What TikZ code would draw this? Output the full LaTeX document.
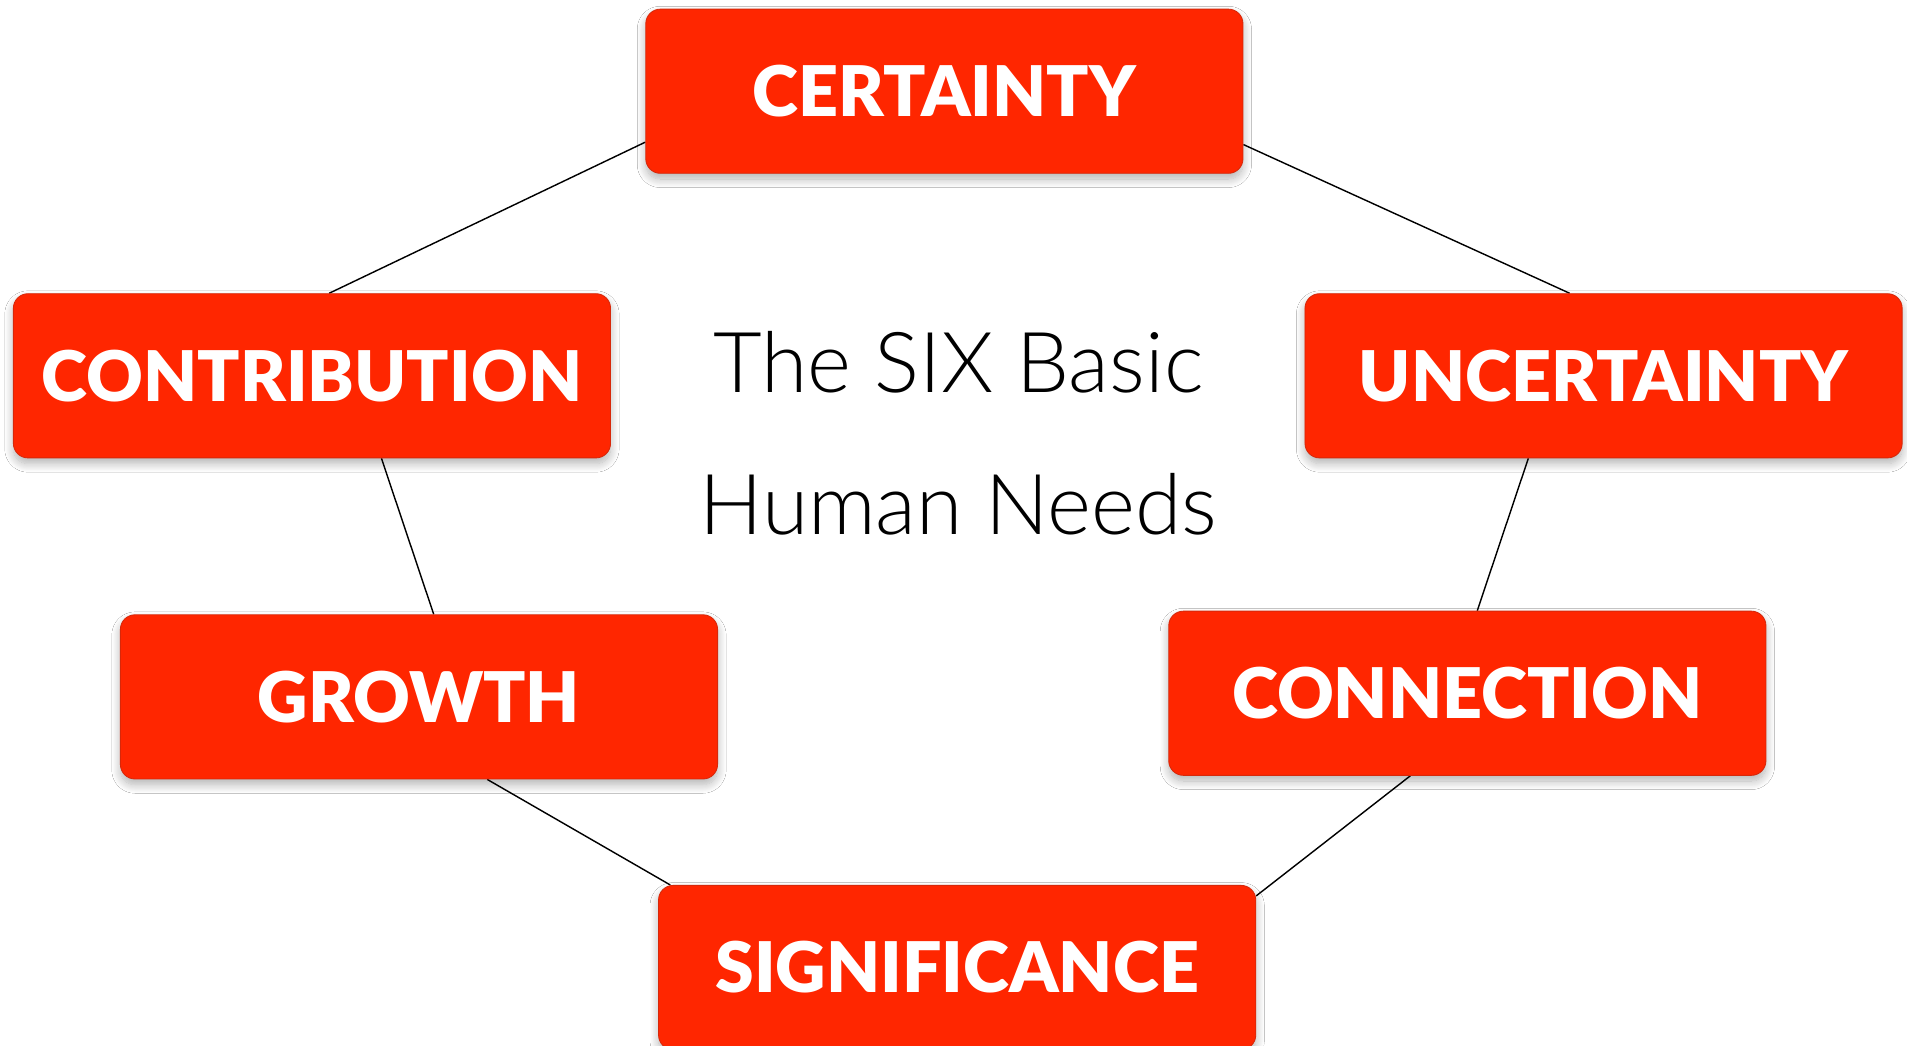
\documentclass[tikz,border=0pt]{standalone}
\usepackage{fontspec}
\usetikzlibrary{calc,backgrounds,shadows.blur}
\newfontfamily\heavyfont{Lato Black}
\newfontfamily\lightfont{Lato Light}
\definecolor{needred}{RGB}{255,38,0}
\definecolor{neededge}{RGB}{215,40,10}
\tikzset{
  needbox/.style={draw=neededge, line width=0.6pt, fill=needred, rounded corners=0.36cm,
    minimum width=14.73cm, minimum height=4.05cm, inner sep=0pt,
    text=white, font=\heavyfont\fontsize{49}{49}\selectfont,
    blur shadow={shadow xshift=0pt, shadow yshift=-4pt, shadow blur radius=6pt, shadow opacity=30, shadow blur steps=12}},
  link/.style={black, line width=1pt},
  title/.style={font=\lightfont\fontsize{59}{59}\selectfont, align=center, inner sep=0pt}
}
\begin{document}
\begin{tikzpicture}[x=0.03cm, y=-0.03cm]
\useasboundingbox (0,0) rectangle (1568,860);
\node[needbox] (cert)   at (776.5,75)  {CERTAINTY};
\node[needbox] (contr)  at (256.5,309) {CONTRIBUTION};
\node[needbox] (uncert) at (1318.5,309) {UNCERTAINTY};
\node[needbox] (growth) at (344.5,573) {GROWTH};
\node[needbox] (conn)   at (1206.5,570) {CONNECTION};
\node[needbox] (sig)    at (787,795.5) {SIGNIFICANCE};
\node[title] (t1) at (788,298) {The SIX Basic};
\node[title] (t2) at (788,415) {Human Needs};
\begin{pgfonlayer}{background}
\fill[white] (0,0) rectangle (1568,860);
\draw[link] ($(cert.south west)+(0,-26)$) -- ($(contr.north west)+(260,0)$);
\draw[link] ($(cert.south east)+(0,-24)$) -- ($(uncert.north west)+(218,0)$);
\draw[link] ($(uncert.south west)+(184,0)$) -- ($(conn.north west)+(254,0)$);
\draw[link] ($(conn.south west)+(199,0)$) -- ($(sig.north east)+(0,9)$);
\draw[link] ($(sig.north west)+(10,0)$) -- ($(growth.south west)+(302,0)$);
\draw[link] ($(growth.north west)+(258,0)$) -- ($(contr.south west)+(303,0)$);
\end{pgfonlayer}
\end{tikzpicture}
\end{document}
